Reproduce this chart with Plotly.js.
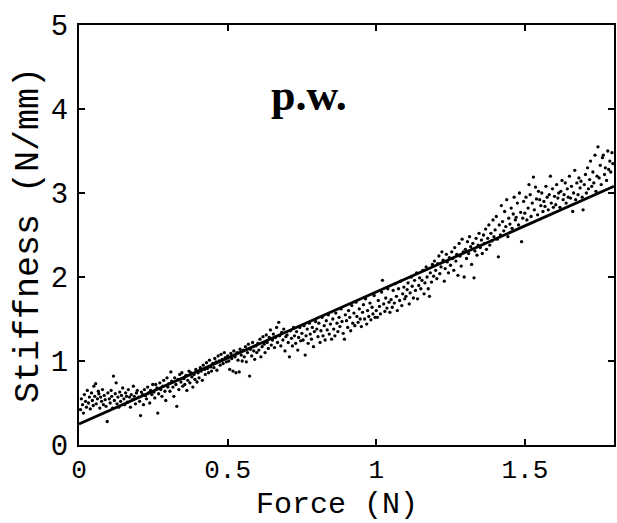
<!DOCTYPE html>
<html>
<head>
<meta charset="utf-8">
<script src="https://cdn.plot.ly/plotly-3.0.1.min.js"></script>
<style>html,body{margin:0;padding:0;background:#fff;}#chart{width:617px;height:523px;}</style>
</head>
<body>
<div id="chart"></div>
<script>
const forceN = [
0.005,0.008,0.012,0.015,0.018,0.022,0.025,0.028,0.032,0.035,0.038,0.042,0.045,0.048,0.050,
0.053,0.056,0.058,0.062,0.065,0.067,0.070,0.073,0.076,0.079,0.082,0.085,0.088,0.091,0.095,0.097,
0.102,0.105,0.108,0.110,0.113,0.116,0.119,0.122,0.125,0.128,0.131,0.134,0.137,0.140,0.143,0.147,
0.151,0.154,0.157,0.160,0.163,0.166,0.170,0.173,0.176,0.180,0.183,0.186,0.190,0.193,0.196,
0.200,0.204,0.207,0.210,0.214,0.217,0.220,0.224,0.227,0.231,0.234,0.238,0.241,0.245,0.248,
0.252,0.255,0.258,0.262,0.265,0.268,0.272,0.275,0.279,0.282,0.285,0.289,0.292,0.296,0.299,
0.302,0.306,0.309,0.312,0.316,0.319,0.322,0.326,0.329,0.333,0.336,0.339,0.343,0.346,0.349,
0.353,0.356,0.360,0.363,0.366,0.370,0.373,0.376,0.380,0.383,0.387,0.390,0.393,0.397,
0.401,0.404,0.408,0.411,0.415,0.418,0.422,0.425,0.429,0.432,0.436,0.439,0.443,0.446,
0.450,0.454,0.457,0.461,0.464,0.468,0.471,0.475,0.478,0.482,0.485,0.489,0.492,0.496,
0.500,0.504,0.507,0.511,0.514,0.518,0.521,0.525,0.528,0.532,0.535,0.539,0.542,0.546,0.549,
0.553,0.556,0.560,0.563,0.567,0.570,0.574,0.577,0.581,0.584,0.588,0.591,0.595,0.598,
0.602,0.605,0.609,0.612,0.616,0.619,0.623,0.626,0.630,0.633,0.637,0.640,0.644,0.647,
0.651,0.654,0.658,0.661,0.665,0.668,0.672,0.675,0.679,0.682,0.686,0.689,0.693,0.696,
0.700,0.704,0.708,0.711,0.715,0.718,0.722,0.725,0.729,0.732,0.736,0.739,0.743,0.746,
0.750,0.754,0.757,0.761,0.764,0.768,0.771,0.775,0.778,0.782,0.785,0.789,0.792,0.796,
0.800,0.804,0.807,0.811,0.814,0.818,0.821,0.825,0.828,0.832,0.835,0.839,0.842,0.846,
0.850,0.854,0.857,0.861,0.864,0.868,0.871,0.875,0.878,0.882,0.885,0.889,0.893,0.896,
0.900,0.904,0.907,0.911,0.914,0.918,0.921,0.925,0.928,0.932,0.935,0.939,0.943,0.946,
0.950,0.954,0.957,0.961,0.964,0.968,0.971,0.975,0.979,0.982,0.986,0.989,0.993,0.996,
1.000,1.004,1.007,1.011,1.014,1.018,1.021,1.025,1.029,1.032,1.036,1.039,1.043,1.046,
1.050,1.054,1.057,1.061,1.064,1.068,1.071,1.075,1.079,1.082,1.086,1.089,1.093,1.096,
1.100,1.104,1.107,1.111,1.114,1.118,1.121,1.125,1.129,1.132,1.136,1.139,1.143,1.146,
1.150,1.154,1.157,1.161,1.164,1.168,1.171,1.175,1.179,1.182,1.186,1.189,1.193,1.196,
1.200,1.204,1.207,1.211,1.214,1.218,1.221,1.225,1.229,1.232,1.236,1.239,1.243,1.246,
1.250,1.254,1.257,1.261,1.264,1.268,1.271,1.275,1.279,1.282,1.286,1.289,1.293,1.296,
1.300,1.304,1.307,1.311,1.314,1.318,1.321,1.325,1.329,1.332,1.336,1.339,1.343,1.346,
1.350,1.354,1.357,1.361,1.364,1.368,1.371,1.375,1.379,1.382,1.386,1.389,1.393,1.396,
1.400,1.404,1.407,1.411,1.414,1.418,1.421,1.425,1.429,1.432,1.436,1.439,1.443,1.446,
1.450,1.454,1.457,1.461,1.464,1.468,1.471,1.475,1.479,1.482,1.486,1.489,1.493,1.496,
1.500,1.504,1.507,1.511,1.514,1.518,1.521,1.525,1.529,1.532,1.536,1.539,1.543,1.546,1.550,
1.554,1.557,1.561,1.564,1.568,1.571,1.575,1.579,1.582,1.586,1.589,1.593,1.596,
1.600,1.604,1.607,1.611,1.614,1.618,1.621,1.625,1.629,1.632,1.636,1.639,1.643,1.646,
1.650,1.654,1.657,1.661,1.664,1.668,1.671,1.675,1.679,1.682,1.686,1.689,1.693,1.696,
1.700,1.704,1.707,1.711,1.714,1.718,1.721,1.725,1.729,1.732,1.736,1.739,1.743,1.746,
1.750,1.754,1.757,1.761,1.764,1.768,1.771,1.775,1.779,1.782,1.786,1.789,1.793,1.796
];
const stiffness = [
0.42,0.55,0.48,0.38,0.60,0.52,0.45,0.65,0.50,0.57,0.43,0.62,0.53,0.47,0.70,
0.58,0.73,0.49,0.55,0.64,0.61,0.44,0.57,0.52,0.66,0.48,0.59,0.54,0.46,0.28,0.62,
0.55,0.50,0.65,0.58,0.44,0.82,0.53,0.61,0.74,0.49,0.57,0.45,0.63,0.52,0.59,0.68,
0.55,0.48,0.62,0.58,0.51,0.66,0.57,0.45,0.60,0.54,0.70,0.58,0.49,0.62,0.65,
0.57,0.52,0.35,0.63,0.60,0.48,0.66,0.59,0.55,0.69,0.62,0.50,0.65,0.60,0.72,
0.63,0.56,0.72,0.68,0.38,0.61,0.74,0.66,0.58,0.70,0.77,0.64,0.53,0.80,0.69,
0.73,0.64,0.87,0.76,0.69,0.58,0.80,0.72,0.46,0.78,0.66,0.84,0.75,0.86,0.70,
0.79,0.72,0.83,0.65,0.77,0.88,0.74,0.86,0.81,0.69,0.84,0.78,0.90,0.75,
0.86,0.80,0.92,0.88,0.77,0.95,0.90,0.84,0.98,0.91,0.86,1.01,0.93,0.88,
0.97,0.92,1.03,0.99,0.89,1.06,1.00,0.95,1.08,1.02,0.97,1.10,1.04,0.99,
1.06,1.00,0.90,1.09,1.03,0.88,1.12,1.05,0.86,1.10,1.01,0.87,1.14,1.07,1.00,
1.13,1.05,1.17,0.99,1.10,1.20,0.82,1.14,1.06,1.22,1.12,1.02,1.18,1.10,
1.21,1.13,1.26,1.05,1.17,1.29,1.20,1.10,1.31,1.22,1.15,1.28,1.37,1.19,
1.25,1.32,1.16,1.28,1.40,1.22,1.46,1.30,1.18,1.34,1.25,1.38,1.12,1.29,
1.31,1.22,1.05,1.36,1.27,1.18,1.40,1.30,1.21,1.35,1.13,1.28,1.40,1.24,
1.33,1.25,1.42,1.07,1.30,1.38,1.21,1.45,1.32,1.26,1.40,1.17,1.35,1.47,
1.38,1.29,1.45,1.22,1.36,1.52,1.30,1.42,1.25,1.48,1.37,1.55,1.32,1.44,
1.26,1.50,1.38,1.30,1.57,1.45,1.35,1.52,1.41,1.62,1.47,1.33,1.26,1.55,
1.48,1.40,1.60,1.52,1.36,1.66,1.45,1.57,1.42,1.70,1.53,1.46,1.62,1.50,
1.41,1.58,1.67,1.50,1.74,1.44,1.60,1.53,1.69,1.49,1.64,1.56,1.78,1.52,
1.60,1.52,1.72,1.65,1.56,1.82,1.96,1.68,1.59,1.75,1.63,1.86,1.70,1.58,
1.73,1.64,1.84,1.69,1.92,1.77,1.60,1.86,1.72,1.95,1.66,1.80,1.88,1.74,
1.77,1.85,1.93,1.68,1.81,2.00,1.89,1.75,1.96,1.84,2.05,1.74,1.90,1.99,
1.86,1.96,2.08,1.80,1.93,2.12,2.00,1.86,1.77,2.05,1.94,2.15,2.01,2.19,
2.08,1.98,2.16,2.25,2.04,2.12,2.30,2.20,1.95,2.10,2.27,2.18,2.05,2.23,
2.14,2.30,2.22,2.08,2.35,2.19,2.27,2.02,2.40,2.25,2.13,2.45,2.30,2.00,
2.33,2.22,2.42,2.28,2.48,2.36,2.15,2.40,1.99,2.31,2.46,2.26,2.38,2.52,
2.35,2.44,2.28,2.50,2.40,2.57,2.33,2.46,2.62,2.38,2.52,2.43,2.68,2.48,
2.56,2.72,2.45,2.24,2.62,2.50,2.85,2.66,2.55,2.78,2.60,2.92,2.48,2.70,
2.63,2.82,2.58,2.75,2.95,2.68,2.71,2.88,2.62,3.00,2.77,2.42,2.70,2.90,
2.76,2.95,2.68,2.82,3.10,2.98,2.72,2.88,3.19,2.80,3.07,2.93,2.74,3.02,2.92,
2.85,3.00,2.78,2.90,2.84,3.08,2.95,2.80,2.98,3.20,2.88,3.05,2.83,
2.96,2.86,3.10,2.94,3.00,2.83,3.02,3.15,2.92,2.98,3.12,2.88,3.05,2.95,
3.20,2.94,3.08,2.78,3.00,3.27,2.92,3.12,2.98,3.18,3.06,3.14,2.95,2.80,
3.10,3.22,3.00,3.30,3.05,3.16,3.38,3.08,3.25,3.12,3.45,3.02,3.20,3.55,
3.18,3.33,3.10,3.42,3.45,3.22,3.30,3.15,3.50,3.28,3.38,3.25,3.48,3.35
];
// Linear fit line endpoints
const fitForce = [0, 1.8];
const fitStiffness = [0.25, 3.08];
// Axis ticks
const xTicks = [0, 0.5, 1, 1.5];
const xTickText = ["0", "0.5", "1", "1.5"];
const yTicks = [0, 1, 2, 3, 4, 5];
const yTickText = ["0", "1", "2", "3", "4", "5"];

const mono = "Liberation Mono, Courier New, monospace";

const traces = [
  {x: forceN, y: stiffness, type: "scatter", mode: "markers",
   marker: {color: "#000", size: 3.3}, hoverinfo: "x+y", showlegend: false},
  {x: fitForce, y: fitStiffness, type: "scatter", mode: "lines",
   line: {color: "#000", width: 2.8}, showlegend: false}
];

const axisCommon = {
  showgrid: false, zeroline: false, showline: true, linecolor: "#000", linewidth: 2,
  mirror: "ticks", ticks: "inside", ticklen: 6, tickwidth: 2, tickcolor: "#000",
  tickfont: {family: mono, size: 27, color: "#000"}
};

const layout = {
  width: 617, height: 523,
  margin: {l: 79, r: 3, t: 25, b: 78},
  paper_bgcolor: "#fff", plot_bgcolor: "#fff",
  xaxis: Object.assign({}, axisCommon, {
    range: [0, 1.8], tickvals: xTicks, ticktext: xTickText, ticklabelstandoff: 0,
    tickfont: {family: mono, size: 26, color: "#000"}
  }),
  yaxis: Object.assign({}, axisCommon, {
    range: [0, 5], tickvals: yTicks, ticktext: yTickText, ticklabelstandoff: 3,
    tickfont: {family: mono, size: 29, color: "#000"},
    title: {text: "Stiffness (N/mm)", font: {family: mono, size: 35, color: "#000"}, standoff: 2}
  }),
  annotations: [
    {x: 0.482, y: -0.185, xref: "paper", yref: "paper", xanchor: "center", yanchor: "bottom",
     text: "Force (N)", showarrow: false, borderpad: 0,
     font: {family: mono, size: 30, color: "#000"}},
    {x: 0.775, y: 4.16, xref: "x", yref: "y", text: "<b>p.w.</b>", showarrow: false,
     font: {family: "Liberation Serif, Times New Roman, serif", size: 44, color: "#000"}}
  ]
};

Plotly.newPlot("chart", traces, layout, {staticPlot: true, displayModeBar: false});
</script>
</body>
</html>
